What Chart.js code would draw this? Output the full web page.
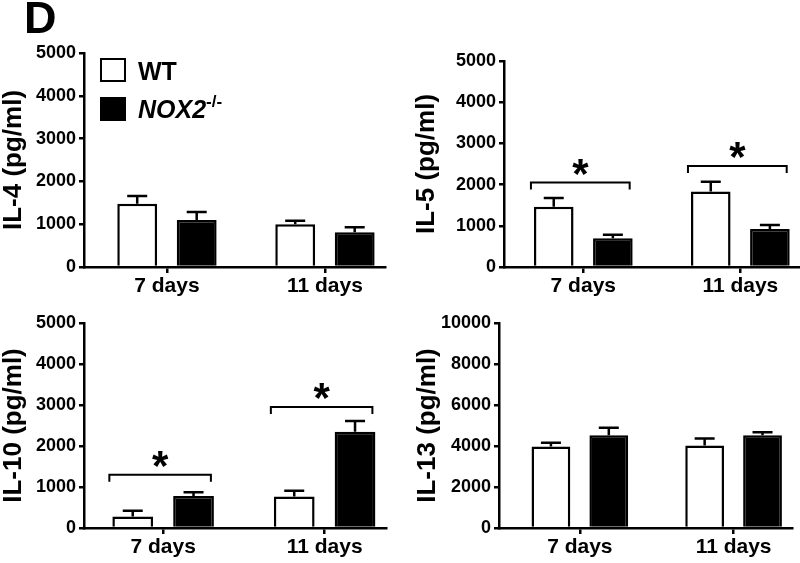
<!DOCTYPE html>
<html>
<head>
<meta charset="utf-8">
<script src="https://cdn.jsdelivr.net/npm/chart.js@4.4.1/dist/chart.umd.min.js"></script>
<style>
body { margin: 0; background: #fff; font-family: "Liberation Sans", Arial, sans-serif; }
#wrap { position: relative; width: 800px; height: 563px; overflow: hidden; background: #fff; }
.panel { position: absolute; }
.panel canvas { display: block; }
.letter { position: absolute; left: 24px; top: -5px; font-size: 45px; line-height: 45px; font-weight: bold; }
.box { position: absolute; left: 100px; width: 26px; height: 24px; box-sizing: border-box; border: 2.5px solid #000; }
.lab { position: absolute; left: 138px; font-size: 25px; line-height: 25px; font-weight: bold; white-space: nowrap; }
.lab sup { font-size: 17px; line-height: 0; position: relative; top: -2px; }
</style>
</head>
<body>
<div id="wrap">
  <div class="panel" style="left:0;top:0"><canvas id="il4" width="400" height="300"></canvas></div>
  <div class="panel" style="left:400px;top:0"><canvas id="il5" width="400" height="300"></canvas></div>
  <div class="panel" style="left:0;top:290px"><canvas id="il10" width="400" height="273"></canvas></div>
  <div class="panel" style="left:400px;top:290px"><canvas id="il13" width="400" height="273"></canvas></div>
  <div class="letter">D</div>
  <div class="box" style="top:58px;background:#fff"></div>
  <div class="box" style="top:97px;background:#000"></div>
  <div class="lab" style="top:59px">WT</div>
  <div class="lab" style="top:97px"><i>NOX2</i><sup>-/-</sup></div>
</div>
<script>
const days = ['7 days', '11 days'];

const il4WT = [1480, 1000];
const il4WTErr = [180, 80];
const il4NOX = [1100, 810];
const il4NOXErr = [185, 120];

const il5WT = [1460, 1830];
const il5WTErr = [215, 240];
const il5NOX = [700, 920];
const il5NOXErr = [80, 100];
const il5Brackets = [2050, 2450];

const il10WT = [280, 770];
const il10WTErr = [140, 140];
const il10NOX = [780, 2350];
const il10NOXErr = [90, 260];
const il10Brackets = [1300, 2950];

const il13WT = [3970, 4030];
const il13WTErr = [190, 330];
const il13NOX = [4520, 4520];
const il13NOXErr = [370, 150];

const ticks5000 = [0, 1000, 2000, 3000, 4000, 5000];
const ticks10000 = [0, 2000, 4000, 6000, 8000, 10000];

Chart.defaults.font.family = '"Liberation Sans", Arial, sans-serif';
Chart.defaults.color = '#000';

// upward error bars with a cap
const errorBars = {
    id: 'errorBars',
    afterDatasetsDraw(chart) {
        const ctx = chart.ctx;
        const y = chart.scales.y;
        ctx.save();
        ctx.strokeStyle = '#000';
        ctx.lineWidth = 2.5;
        chart.data.datasets.forEach((ds, di) => {
            chart.getDatasetMeta(di).data.forEach((bar, i) => {
                const top = y.getPixelForValue(ds.data[i].y + ds.errors[i]);
                ctx.beginPath();
                ctx.moveTo(bar.x, bar.y);
                ctx.lineTo(bar.x, top);
                ctx.moveTo(bar.x - 10, top);
                ctx.lineTo(bar.x + 10, top);
                ctx.stroke();
            });
        });
        ctx.restore();
    }
};

// significance brackets with a star
const brackets = {
    id: 'brackets',
    afterDatasetsDraw(chart, args, opts) {
        if (!opts || !opts.values) return;
        const ctx = chart.ctx;
        const y = chart.scales.y;
        const m0 = chart.getDatasetMeta(0);
        const m1 = chart.getDatasetMeta(1);
        ctx.save();
        ctx.strokeStyle = '#000';
        ctx.fillStyle = '#000';
        ctx.lineWidth = 2;
        opts.values.forEach((v, i) => {
            if (v == null) return;
            const a = m0.data[i], b = m1.data[i];
            const left = a.x - a.width / 2 - 3;
            const right = b.x + b.width / 2 - 3;
            const py = y.getPixelForValue(v);
            ctx.beginPath();
            ctx.moveTo(left, py + 7);
            ctx.lineTo(left, py);
            ctx.lineTo(right, py);
            ctx.lineTo(right, py + 7);
            ctx.stroke();
            ctx.font = 'bold 42px "Liberation Sans", Arial, sans-serif';
            ctx.textAlign = 'center';
            ctx.textBaseline = 'alphabetic';
            ctx.fillText('*', (left + right) / 2, py + 5);
        });
        ctx.restore();
    }
};

Chart.register(errorBars, brackets);

const makeChart = (id, p) => {
    new Chart(document.getElementById(id), {
        type: 'bar',
        data: {
            datasets: [{
                label: 'WT',
                data: p.wt.map((v, i) => ({ x: i + 1, y: v })),
                errors: p.wtErr,
                backgroundColor: '#fff',
                borderColor: '#000',
                borderWidth: 2.5
            }, {
                label: 'NOX2-/-',
                data: p.nox.map((v, i) => ({ x: i + 1, y: v })),
                errors: p.noxErr,
                backgroundColor: '#000',
                borderColor: '#000',
                borderWidth: 2.5
            }]
        },
        options: {
            responsive: false,
            animation: false,
            devicePixelRatio: 1,
            categoryPercentage: 0.753,
            barPercentage: 0.67,
            layout: { padding: { top: p.top, right: p.right, left: 0, bottom: 0 } },
            plugins: {
                legend: { display: false },
                tooltip: { enabled: false },
                brackets: { values: p.brackets }
            },
            scales: {
                x: {
                    type: 'linear',
                    min: p.xMin,
                    max: 2.38,
                    offset: false,
                    afterBuildTicks: s => { s.ticks = days.map((d, i) => ({ value: i + 1 })); },
                    afterFit: s => { s.height = p.xHeight; },
                    ticks: {
                        callback: v => days[v - 1],
                        font: { size: 21, weight: 'bold' },
                        padding: 1,
                        maxRotation: 0,
                        autoSkip: false
                    },
                    grid: { offset: false, drawOnChartArea: false, tickLength: 6, color: '#000', lineWidth: 2.5 },
                    border: { color: '#000', width: 2.5 }
                },
                y: {
                    min: 0,
                    max: p.yTicks[p.yTicks.length - 1],
                    afterBuildTicks: s => { s.ticks = p.yTicks.map(v => ({ value: v })); },
                    afterFit: s => { s.width = p.left; },
                    ticks: {
                        callback: v => String(v),
                        font: { size: 18, weight: 'bold' },
                        padding: 3
                    },
                    title: {
                        display: true,
                        text: p.title,
                        font: { size: 26, weight: 'bold', lineHeight: 1.1 },
                        padding: { top: p.titlePad, bottom: 0 }
                    },
                    grid: { drawOnChartArea: false, tickLength: 5, color: '#000', lineWidth: 2.5 },
                    border: { color: '#000', width: 2.5 }
                }
            }
        }
    });
};

makeChart('il4', { title: 'IL-4 (pg/ml)', wt: il4WT, wtErr: il4WTErr, nox: il4NOX, noxErr: il4NOXErr,
    yTicks: ticks5000, left: 84, top: 53, right: 15, xHeight: 33, titlePad: 0, xMin: 0.475 });
makeChart('il5', { title: 'IL-5 (pg/ml)', wt: il5WT, wtErr: il5WTErr, nox: il5NOX, noxErr: il5NOXErr,
    brackets: il5Brackets, yTicks: ticks5000, left: 104, top: 61, right: 0, xHeight: 33, titlePad: 13, xMin: 0.495 });
makeChart('il10', { title: 'IL-10 (pg/ml)', wt: il10WT, wtErr: il10WTErr, nox: il10NOX, noxErr: il10NOXErr,
    brackets: il10Brackets, yTicks: ticks5000, left: 84, top: 33, right: 14, xHeight: 35, titlePad: 0, xMin: 0.51 });
makeChart('il13', { title: 'IL-13 (pg/ml)', wt: il13WT, wtErr: il13WTErr, nox: il13NOX, noxErr: il13NOXErr,
    yTicks: ticks10000, left: 99, top: 33, right: 8, xHeight: 35, titlePad: 14, xMin: 0.474 });
</script>
</body>
</html>
